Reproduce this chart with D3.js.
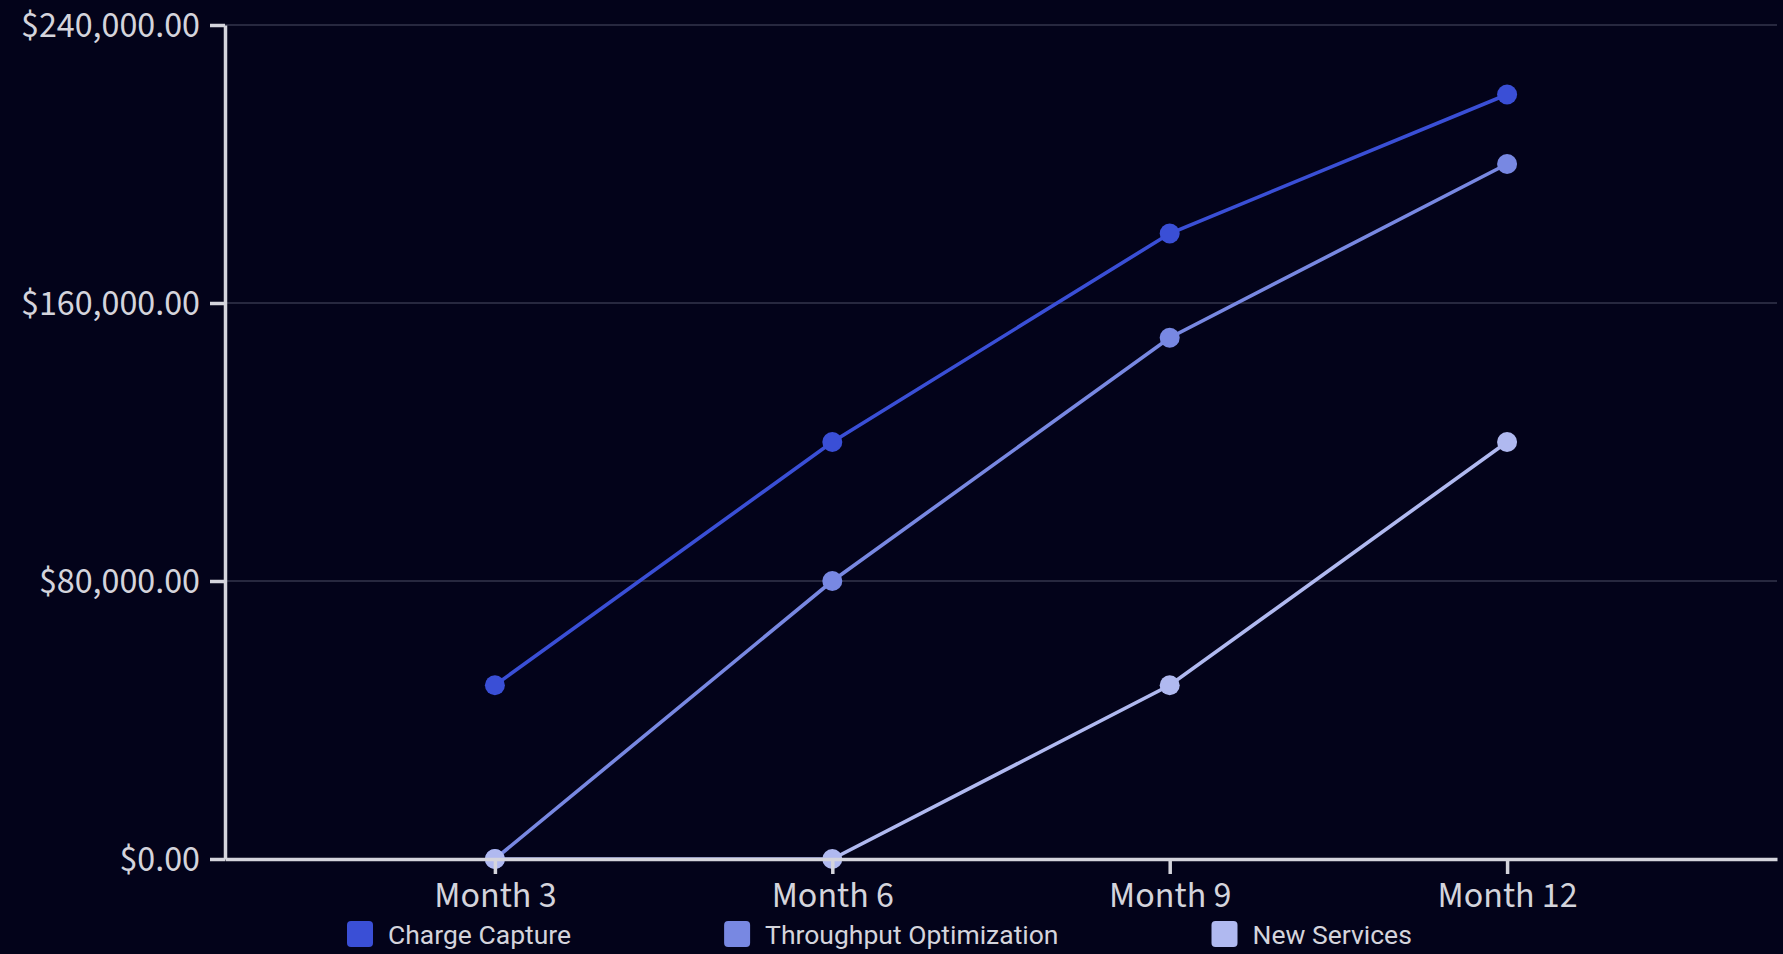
<!DOCTYPE html>
<html>
<head>
<meta charset="utf-8">
<script src="https://cdn.jsdelivr.net/npm/d3@7"></script>
<style>
  html, body { margin: 0; padding: 0; background: #03031a; }
  svg { display: block; }
  .axis text { font-family: "Source Sans 3", "Source Sans Pro", "Liberation Sans Narrow", "Lato", sans-serif; fill: #d4d4dc; }
  .legend text { font-family: Roboto, sans-serif; fill: #d4d4dc; }
</style>
</head>
<body>
<script>
// Projected monthly revenue by initiative
const months = ["Month 3", "Month 6", "Month 9", "Month 12"];
const seriesNames = ["Charge Capture", "Throughput Optimization", "New Services"];
const chargeCapture = [50000, 120000, 180000, 220000];
const throughputOptimization = [0, 80000, 150000, 200000];
const newServices = [0, 0, 50000, 120000];
const yTicks = [0, 80000, 160000, 240000];
const colors = ["#3a4fd6", "#7888e2", "#b0b9f0"];

const W = 1783, H = 954;
const margin = { top: 25, right: 6, bottom: 95, left: 225 };

const svg = d3.select("body").append("svg").attr("width", W).attr("height", H);

const x = d3.scalePoint().domain(months).range([margin.left, W - margin.right]).padding(0.8);
const y = d3.scaleLinear().domain([0, 240000]).range([H - margin.bottom, margin.top]);

const series = [chargeCapture, throughputOptimization, newServices].map((vals, i) => ({
  name: seriesNames[i],
  color: colors[i],
  values: vals.map((v, j) => ({ month: months[j], value: v }))
}));

// horizontal grid
svg.append("g")
  .selectAll("line")
  .data(yTicks.filter(d => d > 0))
  .join("line")
  .attr("x1", margin.left).attr("x2", W - margin.right)
  .attr("y1", d => y(d)).attr("y2", d => y(d))
  .attr("stroke", "#34364c").attr("stroke-width", 1.5);

// series lines and markers
const line = d3.line().x(d => x(d.month)).y(d => y(d.value));
const sg = svg.append("g").selectAll("g").data(series).join("g");
sg.append("path")
  .attr("d", d => line(d.values))
  .attr("fill", "none")
  .attr("stroke", d => d.color)
  .attr("stroke-width", 3.6);
sg.selectAll("circle")
  .data(d => d.values.map(v => ({ ...v, color: d.color })))
  .join("circle")
  .attr("cx", d => x(d.month)).attr("cy", d => y(d.value))
  .attr("r", 10)
  .attr("fill", d => d.color);

// axes
const axisColor = "#d4d4dc";
const yAxis = svg.append("g").attr("class", "axis")
  .attr("transform", `translate(${margin.left},0)`)
  .call(d3.axisLeft(y).tickValues(yTicks).tickFormat(d3.format("$,.2f")).tickSize(15).tickSizeOuter(0).tickPadding(10));
const xAxis = svg.append("g").attr("class", "axis")
  .attr("transform", `translate(0,${H - margin.bottom})`)
  .call(d3.axisBottom(x).tickSize(15).tickSizeOuter(0).tickPadding(7));
[yAxis, xAxis].forEach(a => {
  a.select(".domain").attr("stroke", axisColor).attr("stroke-width", 3.5);
  a.selectAll(".tick line").attr("stroke", axisColor).attr("stroke-width", 3.5);
  a.selectAll("text").attr("font-size", 36);
});

// legend
const legend = svg.append("g").attr("class", "legend");
const items = legend.selectAll("g").data(series).join("g");
items.append("rect")
  .attr("width", 26).attr("height", 26).attr("rx", 4)
  .attr("y", -13)
  .attr("fill", d => d.color);
items.append("text")
  .attr("x", 41).attr("dy", "0.36em")
  .attr("font-size", 26.5)
  .text(d => d.name);
let cursor = 0;
items.each(function () {
  const g = d3.select(this);
  g.attr("transform", `translate(${cursor},0)`);
  cursor += 41 + g.select("text").node().getComputedTextLength() + 153;
});
legend.attr("transform", `translate(347,${934})`);
</script>
</body>
</html>
